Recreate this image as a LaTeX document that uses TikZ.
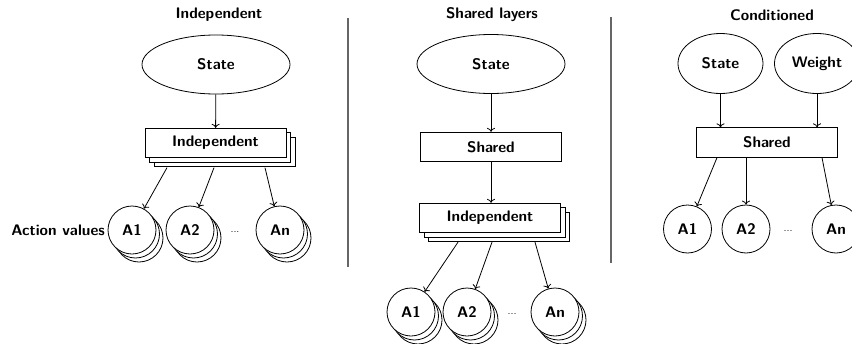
\documentclass[tikz,border=0pt]{standalone}
\usepackage{fontspec}
\usetikzlibrary{shapes.geometric,shadows,arrows.meta}
\begin{document}
\begin{tikzpicture}[x=1pt,y=-1pt,
  every node/.style={font=\fontsize{15.3}{18}\selectfont\sffamily\bfseries},
  arr/.style={draw=black,line width=0.8pt,-{To[length=4pt,width=8pt]}},
  bigell/.style={draw,ellipse,line width=0.8pt,fill=white,minimum width=148pt,minimum height=59pt,inner sep=0pt},
  smell/.style={draw,ellipse,line width=0.8pt,fill=white,minimum width=85pt,minimum height=60pt,inner sep=0pt},
  layer/.style={draw,rectangle,line width=0.8pt,fill=white,minimum width=141pt,minimum height=29.5pt,inner sep=0pt},
  stacklayer/.style={layer,double copy shadow={shadow xshift=4.5pt,shadow yshift=-4.5pt,line width=0.8pt}},
  act/.style={draw,circle,line width=0.8pt,fill=white,minimum size=48pt,inner sep=0pt},
  stackact/.style={act,double copy shadow={shadow xshift=3.5pt,shadow yshift=-4pt,line width=0.8pt}},
  dotsnode/.style={font=\fontsize{11}{12}\selectfont\sffamily},
  sep/.style={draw=black!60,line width=1.2pt}
]
\useasboundingbox (0,0) rectangle (852,343);
\clip (0,0) rectangle (852,343);

% ---------- Left panel ----------
\node (t1) at (219,15) {Independent};
\node[bigell] (s1) at (216,64.5) {State};
\node[stacklayer] (i1) at (215.5,143) {Independent};
\node[stackact] (a11) at (132,230) {A1};
\node[stackact] (a12) at (190,230) {A2};
\node[dotsnode] (d1) at (235,232) {...};
\node[stackact] (a1n) at (280,230) {An};
\node[anchor=east,inner sep=0pt] (av) at (105,230) {Action values};
\draw[arr] (s1) -- (i1);
\draw[arr] ([xshift=-48.5pt,yshift=-9.5pt]i1.south) -- (a11);
\draw[arr] ([xshift=-1.5pt,yshift=-9.5pt]i1.south) -- (a12);
\draw[arr] ([xshift=49.5pt,yshift=-9.5pt]i1.south) -- (a1n);

% separator
\coordinate (l1a) at (348,18);
\coordinate (l1b) at (348,267);
\draw[sep] (l1a) -- (l1b);

% ---------- Middle panel ----------
\node (t2) at (492,15) {Shared layers};
\node[bigell] (s2) at (491,64) {State};
\node[layer] (sh2) at (491,147) {Shared};
\node[stacklayer] (i2) at (490,218) {Independent};
\node[stackact] (a21) at (411,312) {A1};
\node[stackact] (a22) at (467,312) {A2};
\node[dotsnode] (d2) at (512,314) {...};
\node[stackact] (a2n) at (555,312) {An};
\draw[arr] (s2) -- (sh2);
\draw[arr] (sh2) -- (sh2 |- i2.north);
\draw[arr] ([xshift=-32pt,yshift=-9pt]i2.south) -- (a21);
\draw[arr] ([xshift=2pt,yshift=-9pt]i2.south) -- (a22);
\draw[arr] ([xshift=45pt,yshift=-9pt]i2.south) -- (a2n);

% separator
\coordinate (l2a) at (611,17);
\coordinate (l2b) at (611,263);
\draw[sep] (l2a) -- (l2b);

% ---------- Right panel ----------
\node (t3) at (772,15) {Conditioned};
\node[smell] (s3) at (720.5,63.5) {State};
\node[smell] (w3) at (817,63.5) {Weight};
\node[layer] (sh3) at (767,142.5) {Shared};
\node[act] (a31) at (687.5,229) {A1};
\node[act] (a32) at (746,229) {A2};
\node[dotsnode] (d3) at (788,231) {...};
\node[act] (a3n) at (836,229) {An};
\draw[arr] (s3) -- (s3 |- sh3.north);
\draw[arr] (w3) -- (w3 |- sh3.north);
\draw[arr] ([xshift=-50pt]sh3.south) -- (a31);
\draw[arr] ([xshift=-21pt]sh3.south) -- (a32);
\draw[arr] ([xshift=55pt]sh3.south) -- (a3n);
\end{tikzpicture}
\end{document}
